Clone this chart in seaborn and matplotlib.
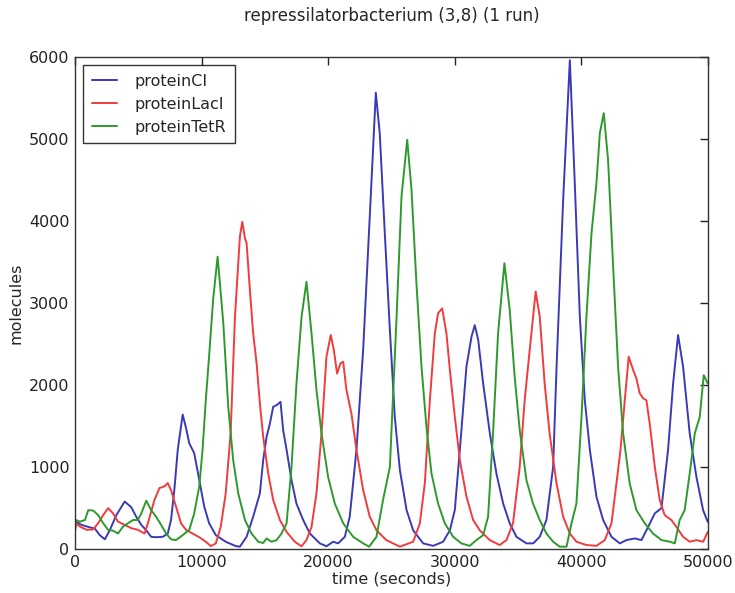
import numpy as np
import pandas as pd
import matplotlib
matplotlib.use("Agg")
import matplotlib.pyplot as plt
import seaborn as sns

title = "repressilatorbacterium (3,8) (1 run)"
series_names = ["proteinCI", "proteinLacI", "proteinTetR"]

t_ci = [0, 80, 520, 1180, 1570, 1960, 2360, 2750, 3270, 3930, 4450, 4840, 5240, 5630, 6020, 6410, 6940,
        7330, 7590, 7850, 8120, 8510, 8770, 9030, 9420, 9820, 10210, 10600, 11130, 11910, 12700, 13030,
        13560, 14080, 14610, 14870, 15140, 15400, 15660, 15930, 16240, 16450, 16720, 17110, 17500, 18030,
        18560, 19350, 19870, 20400, 20790, 21320, 21710, 22240, 22770, 23290, 23770, 24080, 24480, 24870,
        25270, 25670, 26200, 26720, 27510, 28300, 29090, 29620, 30010, 30410, 30930, 31330, 31590, 31860,
        32250, 32780, 33300, 33830, 34350, 34880, 35670, 36200, 36720, 37250, 37780, 38050, 38570, 39100,
        39490, 39890, 40280, 40680, 41200, 41730, 42390, 43050, 43570, 44230, 44760, 45280, 45810, 46340,
        46860, 47260, 47650, 48050, 48570, 49100, 49630, 50000]
v_ci = [250, 335, 295, 265, 250, 170, 120, 230, 415, 580, 510, 395, 295, 230, 150, 145, 150,
        190, 355, 720, 1210, 1640, 1480, 1290, 1170, 845, 520, 315, 170, 90, 37, 30,
        150, 395, 680, 1085, 1370, 1530, 1735, 1755, 1795, 1450, 1210, 840, 555, 355,
        190, 70, 35, 90, 70, 150, 395, 1210, 2430, 4050, 5565, 5070, 3850, 2700,
        1610, 965, 475, 230, 70, 40, 90, 230, 475, 1210, 2225, 2590, 2730, 2550,
        2020, 1410, 920, 555, 315, 150, 70, 70, 150, 355, 1005, 2220, 4255, 5960,
        4460, 2830, 1820, 1210, 640, 355, 150, 70, 110, 130, 110, 270, 435, 500,
        1210, 2020, 2610, 2220, 1410, 880, 475, 330]

t_laci = [0, 80, 390, 920, 1440, 1830, 2230, 2620, 3010, 3400, 3930, 4450, 4970, 5500, 5760, 6280, 6680,
          7070, 7330, 7590, 7980, 8380, 8770, 9290, 9820, 10340, 10730, 11130, 11520, 11910, 12300, 12640,
          13030, 13220, 13430, 13560, 13820, 14080, 14350, 14610, 14870, 15270, 15660, 16190, 16720, 17370,
          17900, 18290, 18690, 19080, 19480, 19870, 20210, 20450, 20710, 20980, 21190, 21450, 21840, 22240,
          22770, 23290, 23820, 24600, 25400, 25670, 26200, 26720, 27250, 27640, 28040, 28430, 28690, 29010,
          29350, 29620, 30010, 30410, 30930, 31460, 31980, 32770, 33560, 34090, 34610, 35140, 35530, 35930,
          36400, 36720, 37110, 37500, 38050, 38570, 39100, 39620, 40410, 41200, 41860, 42390, 42780, 43100,
          43440, 43750, 44100, 44360, 44620, 44880, 45150, 45410, 45810, 46200, 46590, 47120, 47520, 48050,
          48570, 49100, 49630, 50000]
v_laci = [200, 315, 275, 235, 240, 315, 415, 500, 435, 335, 295, 255, 235, 190, 315, 600, 745,
          765, 805, 720, 520, 315, 235, 190, 145, 90, 37, 70, 275, 680, 1415, 2830,
          3810, 3990, 3790, 3730, 3160, 2630, 2265, 1775, 1370, 920, 600, 355, 210, 90,
          35, 110, 270, 680, 1410, 2345, 2610, 2430, 2140, 2265, 2285, 1940, 1655, 1210,
          720, 395, 230, 110, 50, 30, 60, 90, 315, 800, 1815, 2630, 2875, 2935,
          2630, 2185, 1615, 1085, 640, 355, 230, 110, 50, 110, 315, 1005, 1815, 2430,
          3140, 2835, 2020, 1410, 800, 395, 190, 90, 50, 40, 110, 315, 800, 1210,
          1815, 2345, 2185, 2080, 1900, 1840, 1815, 1530, 1005, 600, 415, 355, 270, 150,
          90, 110, 90, 210]

t_tetr = [0, 80, 390, 790, 1050, 1440, 1830, 2230, 2620, 3010, 3400, 3800, 4190, 4580, 4970, 5240, 5630,
          6020, 6410, 6810, 7200, 7590, 7980, 8510, 9030, 9420, 9820, 10080, 10340, 10600, 10920, 11270,
          11720, 12110, 12500, 12900, 13430, 13950, 14480, 14870, 15140, 15530, 15930, 16320, 16720, 17110,
          17500, 17900, 18290, 18690, 19080, 19480, 20000, 20530, 21190, 21980, 22770, 23240, 23820, 24340,
          24880, 25410, 25800, 26250, 26590, 26980, 27380, 27770, 28170, 28690, 29220, 29880, 30530, 31190,
          31720, 32250, 32640, 33030, 33430, 33930, 34350, 34740, 35140, 35670, 36190, 36720, 37250, 37780,
          38300, 38840, 39230, 39620, 40020, 40410, 40810, 41200, 41470, 41780, 42120, 42520, 42910, 43310,
          43830, 44360, 45020, 45670, 46340, 47000, 47390, 47780, 48170, 48570, 48970, 49360, 49680, 50000]
v_tetr = [250, 355, 335, 355, 475, 470, 415, 315, 235, 225, 190, 275, 315, 355, 355, 435, 590,
          475, 395, 295, 190, 120, 110, 170, 235, 435, 765, 1210, 1825, 2355, 3050, 3565,
          2755, 1735, 1085, 680, 355, 190, 90, 75, 130, 90, 110, 190, 315, 1005,
          2020, 2830, 3260, 2630, 1940, 1410, 880, 555, 315, 150, 70, 30, 150, 600,
          1000, 2830, 4300, 4990, 4380, 3240, 2225, 1490, 920, 555, 315, 150, 70, 40,
          110, 170, 395, 1410, 2630, 3485, 2915, 2100, 1450, 840, 555, 355, 190, 90,
          30, 30, 315, 555, 1610, 2830, 3850, 4460, 5070, 5315, 4745, 3445, 2225, 1410,
          800, 475, 315, 190, 110, 90, 70, 355, 475, 920, 1410, 1610, 2120, 2020]

x_ticks = [0, 10000, 20000, 30000, 40000, 50000]
y_ticks = [0, 1000, 2000, 3000, 4000, 5000, 6000]

frames = []
for name, t, v in zip(series_names, [t_ci, t_laci, t_tetr], [v_ci, v_laci, v_tetr]):
    frames.append(pd.DataFrame({"time": t, "molecules": v, "species": name}))
df = pd.concat(frames, ignore_index=True)

sns.set_style("white")
plt.rcParams["font.family"] = ["DejaVu Sans"]

fig = plt.figure(figsize=(7.35, 5.93), dpi=100)
ax = fig.add_axes([0.102, 0.074, 0.861, 0.830])

palette = {"proteinCI": "#3a3ab8", "proteinLacI": "#f03c3c", "proteinTetR": "#2e9a2e"}
sns.lineplot(data=df, x="time", y="molecules", hue="species", palette=palette,
             hue_order=series_names, ax=ax, linewidth=1.4, estimator=None, sort=False)

ax.set_xlim(0, 50000)
ax.set_ylim(0, 6000)
ax.set_xticks(x_ticks)
ax.set_yticks(y_ticks)
ax.tick_params(direction="in", length=6, width=1, top=True, right=True,
               labelsize=11.5, colors="#222222", pad=4)
for s in ax.spines.values():
    s.set_color("#333333")
    s.set_linewidth(1.0)
ax.set_xlabel("time (seconds)", fontsize=11.5, labelpad=1)
ax.set_ylabel("molecules", fontsize=11.5, labelpad=4)
ax.set_title(title, fontsize=12, pad=26)

leg = ax.legend(loc="upper left", fontsize=11.5, frameon=True, fancybox=False,
                handlelength=1.6, borderpad=0.55, labelspacing=0.5, handletextpad=1.1,
                bbox_to_anchor=(0.0, 1.0), borderaxespad=0.5)
leg.get_frame().set_edgecolor("black")
leg.get_frame().set_linewidth(1.0)
leg.set_title(None)

fig.savefig("out.png", dpi=100)
